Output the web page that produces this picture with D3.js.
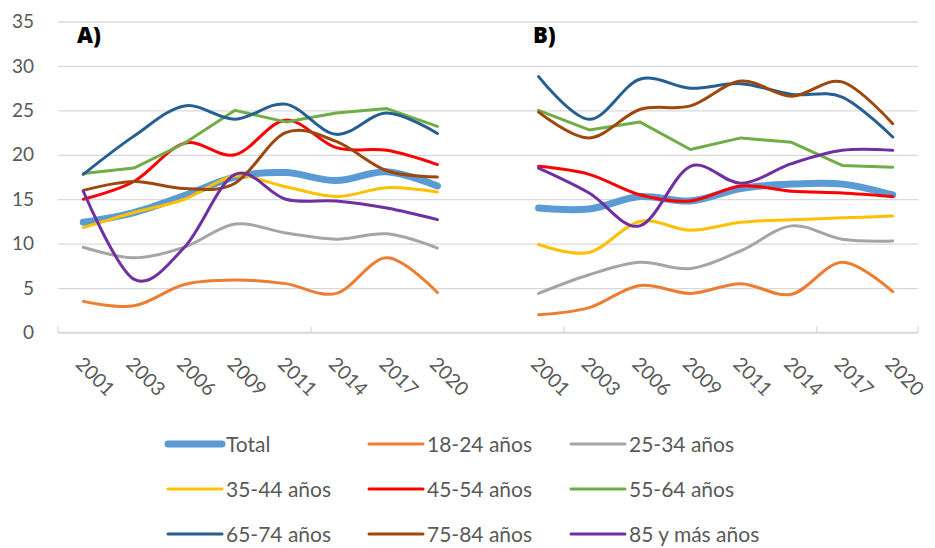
<!DOCTYPE html>
<html>
<head>
<meta charset="utf-8">
<script src="https://cdn.jsdelivr.net/npm/d3@7"></script>
<style>
  html, body { margin: 0; padding: 0; background: #fff; }
  svg { display: block; }
  text { font-family: "Lato", "Open Sans", sans-serif; }
</style>
</head>
<body>
<svg id="chart" width="935" height="548"></svg>
<script>
// ---------------- data ----------------
const years = ["2001", "2003", "2006", "2009", "2011", "2014", "2017", "2020"];
const yTicks = [0, 5, 10, 15, 20, 25, 30, 35];
const panels = ["A)", "B)"];
const seriesNames = ["Total", "18-24 años", "25-34 años", "35-44 años", "45-54 años",
                     "55-64 años", "65-74 años", "75-84 años", "85 y más años"];

// Panel A values (one array per series)
const totalA = [12.4, 13.5, 15.4, 17.5, 18.0, 17.1, 18.1, 16.5];
const g1824A = [3.5, 3.0, 5.4, 5.9, 5.5, 4.4, 8.4, 4.5];
const g2534A = [9.6, 8.4, 9.6, 12.2, 11.2, 10.5, 11.1, 9.5];
const g3544A = [11.8, 13.5, 15.0, 17.6, 16.4, 15.3, 16.3, 15.8];
const g4554A = [15.0, 17.0, 21.3, 20.0, 23.9, 20.8, 20.5, 18.9];
const g5564A = [17.9, 18.5, 21.3, 25.0, 23.7, 24.7, 25.2, 23.2];
const g6574A = [17.8, 22.1, 25.5, 24.0, 25.7, 22.3, 24.7, 22.4];
const g7584A = [16.0, 17.0, 16.2, 16.8, 22.5, 21.5, 18.2, 17.5];
const g85A   = [15.9, 6.0, 9.6, 17.8, 15.0, 14.8, 14.0, 12.7];

// Panel B values
const totalB = [14.0, 13.9, 15.3, 14.8, 16.2, 16.7, 16.7, 15.5];
const g1824B = [2.0, 2.8, 5.3, 4.4, 5.5, 4.3, 7.9, 4.6];
const g2534B = [4.4, 6.5, 7.9, 7.2, 9.2, 12.0, 10.5, 10.3];
const g3544B = [9.9, 9.0, 12.5, 11.5, 12.4, 12.7, 12.9, 13.1];
const g4554B = [18.7, 17.8, 15.5, 14.8, 16.5, 15.9, 15.7, 15.3];
const g5564B = [25.0, 22.8, 23.7, 20.6, 21.9, 21.4, 18.8, 18.6];
const g6574B = [28.8, 24.0, 28.5, 27.5, 28.0, 26.8, 26.5, 22.0];
const g7584B = [24.8, 21.9, 25.1, 25.5, 28.3, 26.6, 28.2, 23.5];
const g85B   = [18.5, 15.7, 12.0, 18.7, 16.8, 19.0, 20.5, 20.5];

const valuesA = [totalA, g1824A, g2534A, g3544A, g4554A, g5564A, g6574A, g7584A, g85A];
const valuesB = [totalB, g1824B, g2534B, g3544B, g4554B, g5564B, g6574B, g7584B, g85B];

// ---------------- styles ----------------
const colors = ["#5B9BD5", "#ED7D31", "#A5A5A5", "#FFC000", "#FF0000",
                "#70AD47", "#255E91", "#9E480E", "#7030A0"];
const widths = [7, 3, 3, 3, 3, 3, 3, 3, 3];
const straight = [false, false, false, false, false, true, false, false, false];

const svg = d3.select("#chart");
const pLeft = 58, pRight = 918, pTop = 21.5, pBottom = 332.5;

// categories: panel A, an empty slot, panel B
const keysA = years.map(yr => "A" + yr);
const keysB = years.map(yr => "B" + yr);
const domain = [...keysA, "gap", ...keysB];

const x = d3.scaleBand().domain(domain).range([pLeft, pRight]).paddingInner(0).paddingOuter(0);
const cx = k => x(k) + x.bandwidth() / 2;
const y = d3.scaleLinear().domain([0, 35]).range([pBottom, pTop]);

// gridlines
const grid = svg.append("g").attr("transform", `translate(${pLeft},0)`)
  .call(d3.axisLeft(y).tickValues(yTicks).tickSize(-(pRight - pLeft)).tickFormat(""));
grid.select(".domain").remove();
grid.selectAll("line").attr("stroke", "#D9D9D9").attr("stroke-width", 1.3);

// y labels
const yAx = svg.append("g").attr("transform", `translate(${pLeft},0)`)
  .call(d3.axisLeft(y).tickValues(yTicks).tickSize(0).tickPadding(24));
yAx.select(".domain").remove();
yAx.selectAll("text").attr("fill", "#595959").style("font-size", "19px")
  .style("font-family", "Lato, 'Open Sans', sans-serif");

// x axis line & tick marks
svg.append("line").attr("x1", pLeft).attr("x2", pRight).attr("y1", pBottom).attr("y2", pBottom)
  .attr("stroke", "#D9D9D9").attr("stroke-width", 1.3);
const tickIdx = [0, 5, 10, 15];
svg.selectAll(".xt").data(tickIdx).enter().append("line")
  .attr("x1", i => x(domain[i])).attr("x2", i => x(domain[i]))
  .attr("y1", pBottom).attr("y2", pBottom - 6)
  .attr("stroke", "#D9D9D9").attr("stroke-width", 1.3);
svg.append("line").attr("x1", pRight).attr("x2", pRight).attr("y1", pBottom).attr("y2", pBottom - 6)
  .attr("stroke", "#D9D9D9").attr("stroke-width", 1.3);

// x labels (rotated)
const xAx = svg.append("g").attr("transform", `translate(0,${pBottom})`)
  .call(d3.axisBottom(x).tickValues([...keysA, ...keysB]).tickSize(0).tickFormat(k => k.slice(1)));
xAx.select(".domain").remove();
xAx.selectAll(".tick").each(function(k) {
  const t = d3.select(this).select("text");
  t.attr("transform", "translate(-4,28) rotate(45)")
   .attr("x", 0).attr("y", 0).attr("dy", "0.35em")
   .attr("text-anchor", "start")
   .attr("fill", "#595959").style("font-size", "19.5px")
   .style("font-family", "Lato, 'Open Sans', sans-serif");
});

// lines
const lineSmooth = d3.line().x(d => cx(d.k)).y(d => y(d.v)).curve(d3.curveCardinal.tension(0));
const lineStraight = d3.line().x(d => cx(d.k)).y(d => y(d.v)).curve(d3.curveLinear);

[[keysA, valuesA], [keysB, valuesB]].forEach(([keys, vals]) => {
  vals.forEach((arr, si) => {
    const pts = arr.map((v, i) => ({ k: keys[i], v }));
    svg.append("path")
      .attr("d", (straight[si] ? lineStraight : lineSmooth)(pts))
      .attr("fill", "none")
      .attr("stroke", colors[si])
      .attr("stroke-width", widths[si])
      .attr("stroke-linecap", "round")
      .attr("stroke-linejoin", "round");
  });
});

// panel titles
[[panels[0], 77], [panels[1], 533]].forEach(([t, px]) => {
  svg.append("text").attr("x", px).attr("y", 43).text(t)
    .style("font-family", "'Open Sans', 'DejaVu Sans', sans-serif")
    .style("font-weight", "800").style("font-size", "22px").attr("fill", "#000");
});

// legend
const colX = [168, 369, 571];
const rowY = [444, 489, 534];
seriesNames.forEach((name, i) => {
  const gx = colX[i % 3], gy = rowY[Math.floor(i / 3)];
  svg.append("line").attr("x1", gx).attr("x2", gx + 54).attr("y1", gy).attr("y2", gy)
    .attr("stroke", colors[i]).attr("stroke-width", widths[i]).attr("stroke-linecap", "round");
  svg.append("text").attr("x", gx + 58).attr("y", gy + 7.5).text(name)
    .attr("fill", "#595959").style("font-size", "21px");
});
</script>
</body>
</html>
